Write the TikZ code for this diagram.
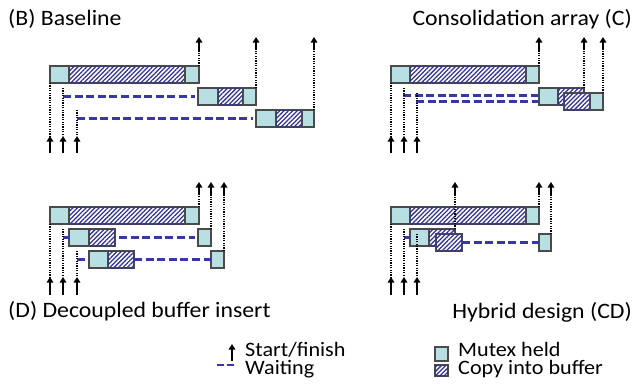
\documentclass[tikz,border=0pt]{standalone}
\usepackage{fontspec}
\setmainfont{Carlito}[FakeStretch=1.08]
\usetikzlibrary{arrows.meta,patterns.meta}

\definecolor{mutexfill}{HTML}{B8E0E3}
\definecolor{boxline}{HTML}{4A4A4A}
\definecolor{hatchblue}{HTML}{30309A}
\definecolor{waitblue}{HTML}{3838A4}

\tikzset{
  seg/.style={draw=boxline, line width=1.1pt, inner sep=0pt, outer sep=0pt, anchor=north west},
  mutex/.style={seg, fill=mutexfill},
  copybuf/.style={seg, fill=white,
    postaction={pattern={Lines[angle=45,distance=3.1pt,line width=1.25pt]}, pattern color=hatchblue}},
  tick/.style={line width=2.3pt, -{Triangle[length=5.5pt,width=6.5pt]}},
  dots/.style={line width=1.2pt, dash pattern=on 1.2pt off 1.2pt},
  wait/.style={draw=waitblue, line width=2.4pt, dash pattern=on 8pt off 3.6pt},
  title/.style={inner sep=0pt, font=\fontsize{22}{24}\selectfont},
  legendtext/.style={inner sep=0pt, font=\fontsize{20.5}{22}\selectfont},
}

% a box segment given by its corners: name, style, x1, y1, x2, y2
\newcommand\segment[6]{\node[#2, minimum width={#5-#3}, minimum height={#6-#4}] (#1) at (#3,#4) {};}
% finish arrow: name, start point, y where the solid shaft starts, y of the tip
\newcommand\finish[4]{%
  \coordinate (#1s) at (#2 |- 0,#3);
  \coordinate (#1t) at (#2 |- 0,#4);
  \draw[dots] (#2) -- (#1s);
  \draw[tick] (#1s) -- (#1t);}
% start arrow: name, top of the dotted lead, y of the tip, y of the tail
\newcommand\start[4]{%
  \coordinate (#1t) at (#2 |- 0,#3);
  \coordinate (#1b) at (#2 |- 0,#4);
  \draw[dots] (#2) -- (#1t);
  \draw[tick] (#1b) -- (#1t);}

\begin{document}
\begin{tikzpicture}[x=1pt,y=-1pt]
\useasboundingbox (0,0) rectangle (635,386);

% ---------- titles ----------
\node[title, anchor=base west] (tB) at (8,25) {(B) Baseline};
\node[title, anchor=base east] (tC) at (632,25) {Consolidation array (C)};
\node[title, anchor=base west] (tD) at (8,317) {(D) Decoupled buffer insert};
\node[title, anchor=base east] (tCD) at (632,318) {Hybrid design (CD)};

% ---------- (B) Baseline ----------
\segment{b1a}{mutex}{50}{66}{69}{83}
\segment{b1b}{copybuf}{69}{66}{185}{83}
\segment{b1c}{mutex}{185}{66}{199}{83}
\segment{b2a}{mutex}{198}{88}{218}{105}
\segment{b2b}{copybuf}{218}{88}{243}{105}
\segment{b2c}{mutex}{243}{88}{256}{105}
\segment{b3a}{mutex}{256}{110}{276}{127}
\segment{b3b}{copybuf}{276}{110}{302}{127}
\segment{b3c}{mutex}{302}{110}{314}{127}
\coordinate (bw2) at (63,96.5);
\coordinate (bw3) at (77,118.5);
\draw[wait, shorten >=3pt] (bw2) -- (b2a.west);
\draw[wait, shorten >=3pt] (bw3) -- (b3a.west);
\finish{fb1}{b1c.north east}{50}{37}
\finish{fb2}{b2c.north east}{50}{37}
\finish{fb3}{b3c.north east}{50}{37}
\coordinate (bs2) at (63,88);
\coordinate (bs3) at (77,110);
\start{sb1}{b1a.south west}{136}{153}
\start{sb2}{bs2}{136}{153}
\start{sb3}{bs3}{136}{153}

% ---------- (C) Consolidation array ----------
% waiting lines first, so that the boxes cover their ends
\coordinate (cw2) at (403,95.5);
\coordinate (cw2e) at (539,95.5);
\coordinate (cw3) at (416,101.5);
\coordinate (cw3e) at (564,101.5);
\draw[wait] (cw2) -- (cw2e);
\draw[wait] (cw3) -- (cw3e);
\segment{c1a}{mutex}{391}{66}{410}{83}
\segment{c1b}{copybuf}{410}{66}{526}{83}
\segment{c1c}{mutex}{526}{66}{539}{83}
\segment{c2a}{mutex}{539}{88}{558}{105}
\segment{c2b}{copybuf}{558}{88}{584}{105}
\segment{c3b}{copybuf}{564}{93}{590}{110}
\segment{c3c}{mutex}{590}{93}{603}{110}
\finish{fc1}{c1c.north east}{50}{37}
\finish{fc2}{c2b.north east}{50}{37}
\finish{fc3}{c3c.north east}{50}{37}
\coordinate (cs2) at (404,88);
\coordinate (cs3) at (417,93);
\start{sc1}{c1a.south west}{136}{153}
\start{sc2}{cs2}{136}{153}
\start{sc3}{cs3}{136}{153}

% ---------- (D) Decoupled buffer insert ----------
\segment{d1a}{mutex}{50}{207}{69}{224}
\segment{d1b}{copybuf}{69}{207}{185}{224}
\segment{d1c}{mutex}{185}{207}{199}{224}
\segment{d2a}{mutex}{69}{229}{89}{246}
\segment{d2b}{copybuf}{89}{229}{115}{246}
\segment{d2c}{mutex}{198}{229}{211}{246}
\segment{d3a}{mutex}{89}{251}{108}{268}
\segment{d3b}{copybuf}{108}{251}{134}{268}
\segment{d3c}{mutex}{211}{251}{224}{268}
\coordinate (dw2) at (63,237.5);
\coordinate (dw3) at (77,259.5);
\draw[wait] (dw2) -- (d2a.west);
\draw[wait, shorten <=4pt, shorten >=3pt] (d2b.east) -- (d2c.west);
\draw[wait] (dw3) -- (d3a.west);
\draw[wait] (d3b.east) -- (d3c.west);
\finish{fd1}{d1c.north east}{195}{182}
\finish{fd2}{d2c.north east}{195}{182}
\finish{fd3}{d3c.north east}{195}{182}
\coordinate (ds2) at (63,229);
\coordinate (ds3) at (77,251);
\start{sd1}{d1a.south west}{277}{295}
\start{sd2}{ds2}{277}{295}
\start{sd3}{ds3}{277}{295}

% ---------- (CD) Hybrid design ----------
\segment{e1a}{mutex}{391}{207}{410}{224}
\segment{e1b}{copybuf}{410}{207}{526}{224}
\segment{e1c}{mutex}{526}{207}{539}{224}
\segment{e2a}{mutex}{410}{229}{429}{246}
\segment{e2b}{copybuf}{429}{229}{455}{246}
\segment{e3b}{copybuf}{436}{234}{462}{251}
\segment{e3c}{mutex}{539}{234}{551}{251}
\coordinate (ew2) at (404,237.5);
\draw[wait] (ew2) -- (e2a.west);
\draw[wait] (e3b.east) -- (e3c.west);
\finish{fe2}{e2b.north east}{195}{182}
\finish{fe1}{e1c.north east}{195}{182}
\finish{fe3}{e3c.north east}{195}{182}
\coordinate (es2) at (404,229);
\coordinate (es3) at (417,234);
\start{se1}{e1a.south west}{277}{295}
\start{se2}{es2}{277}{295}
\start{se3}{es3}{277}{295}

% ---------- legend ----------
\coordinate (lgArrB) at (232,361);
\coordinate (lgArrT) at (232,344);
\draw[tick] (lgArrB) -- (lgArrT);
\node[legendtext, anchor=base west] (lgStart) at (245,356) {Start/finish};
\coordinate (lgWaitL) at (217,365);
\coordinate (lgWaitR) at (237,365);
\draw[wait, dash pattern=on 7pt off 3pt] (lgWaitL) -- (lgWaitR);
\node[legendtext, anchor=base west] (lgWait) at (245,374.5) {Waiting};
\segment{lgM}{mutex}{435}{347}{448}{361}
\node[legendtext, anchor=base west] (lgMutex) at (458,356) {Mutex held};
\segment{lgC}{copybuf}{435}{365}{448}{376}
\node[legendtext, anchor=base west] (lgCopy) at (458,374.5) {Copy into buffer};
\end{tikzpicture}
\end{document}
